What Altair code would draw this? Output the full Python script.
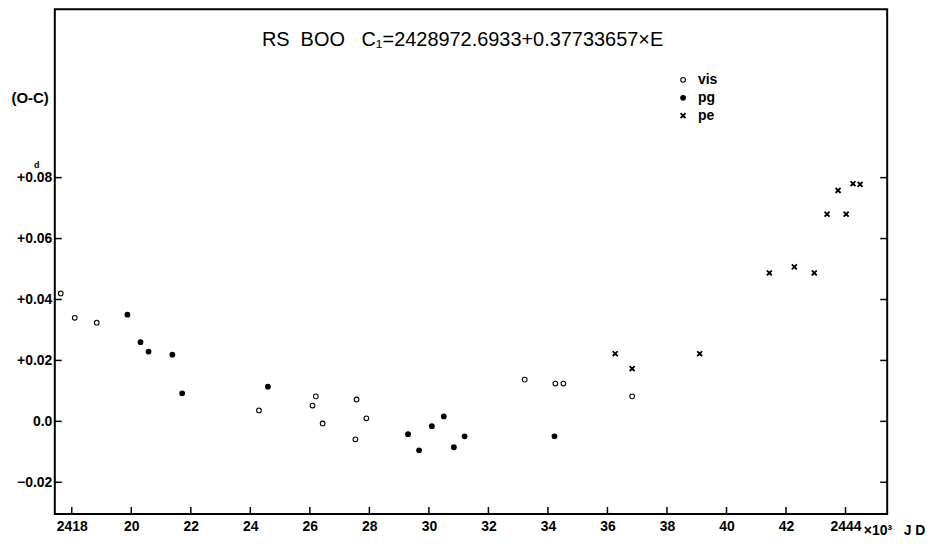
import altair as alt
import pandas as pd

# ---- data (JD - 2400000, in units of 10^3 days) ----
vis_jd = [17.63, 18.10, 18.84, 24.29, 26.09, 26.20, 26.43, 27.57, 27.53, 27.90, 33.22, 34.25, 34.52, 36.83]
vis_oc = [0.0420, 0.0340, 0.0324, 0.0036, 0.0052, 0.0082, -0.0007, 0.0072, -0.0059, 0.0010, 0.0137, 0.0124, 0.0124, 0.0082]
pg_jd = [19.87, 20.31, 20.58, 21.38, 21.71, 24.59, 29.30, 29.67, 30.10, 30.50, 30.84, 31.20, 34.22]
pg_oc = [0.0350, 0.0260, 0.0229, 0.0219, 0.0092, 0.0114, -0.0042, -0.0095, -0.0016, 0.0016, -0.0085, -0.0049, -0.0049]
pe_jd = [36.26, 36.83, 39.10, 41.44, 42.28, 42.95, 43.38, 43.75, 44.02, 44.25, 44.49]
pe_oc = [0.0222, 0.0173, 0.0222, 0.0487, 0.0507, 0.0487, 0.0680, 0.0758, 0.0680, 0.0780, 0.0778]

types = ["vis", "pg", "pe"]
x_ticks = [18, 20, 22, 24, 26, 28, 30, 32, 34, 36, 38, 40, 42, 44]
y_ticks = [-0.02, 0.0, 0.02, 0.04, 0.06, 0.08]
NB = "\u00a0"
title_text = "RS" + NB * 2 + "BOO" + NB * 3 + "C\u2081=2428972.6933+0.37733657\u00d7E"

W, H = 836, 507
FONT = "Liberation Sans"

rows = []
for t, xs, ys in (("vis", vis_jd, vis_oc), ("pg", pg_jd, pg_oc), ("pe", pe_jd, pe_oc)):
    for a, b in zip(xs, ys):
        rows.append({"jd": a, "oc": b, "type": t})
df = pd.DataFrame(rows)

xscale = alt.Scale(domain=[17.43, 45.4], nice=False, zero=False)
yscale = alt.Scale(domain=[-0.0304, 0.1353], nice=False, zero=False)

xaxis = alt.Axis(values=x_ticks, tickSize=0, domain=False, grid=False,
                 labelExpr="datum.value == 18 ? '2418' : (datum.value == 44 ? '2444' : format(datum.value, 'd'))",
                 labelFont=FONT, labelFontSize=14, labelFontWeight="bold", labelColor="black",
                 labelPadding=6, labelFlush=False,
                 title="\u00d710\u00b3" + NB * 3 + "J D", titleFont=FONT, titleFontSize=14, titleFontWeight="bold",
                 titleColor="black", titleAnchor="start", titleAlign="left", titleX=812, titleY=10,
                 titleBaseline="top")
yaxis = alt.Axis(values=y_ticks, tickSize=0, domain=False, grid=False,
                 labelExpr="datum.value == 0 ? '0.0' : (datum.value > 0 ? '+' : '') + format(datum.value, '.2f')",
                 labelFont=FONT, labelFontSize=14, labelFontWeight="bold", labelColor="black",
                 labelPadding=3,
                 title="(O-C)", titleFont=FONT, titleFontSize=15, titleFontWeight="bold",
                 titleColor="black", titleAngle=0, titleAlign="left", titleBaseline="middle",
                 titleX=-44, titleY=89)

xpath = "M-0.8,-1L0,-0.25L0.8,-1L1,-0.8L0.25,0L1,0.8L0.8,1L0,0.25L-0.8,1L-1,0.8L-0.25,0L-1,-0.8Z"

legend = alt.Legend(title=None, orient="none", legendX=624, legendY=64, padding=0,
                    labelFont=FONT, labelFontSize=14, labelFontWeight="bold",
                    labelColor="black", symbolSize=22, symbolStrokeWidth=1.1,
                    rowPadding=4, labelOffset=8)

points = alt.Chart(df).mark_point(size=22, strokeWidth=1.1, opacity=1).encode(
    x=alt.X("jd:Q", scale=xscale, axis=xaxis),
    y=alt.Y("oc:Q", scale=yscale, axis=yaxis),
    shape=alt.Shape("type:N", scale=alt.Scale(domain=types, range=["circle", "circle", xpath]), legend=legend),
    fill=alt.Fill("type:N", scale=alt.Scale(domain=types, range=["white", "black", "black"]), legend=legend),
    stroke=alt.Stroke("type:N", scale=alt.Scale(domain=types, range=["black", "black", "black"]), legend=legend),
)

ydf = pd.DataFrame({"v": y_ticks})
xdf = pd.DataFrame({"v": x_ticks})

left_ticks = alt.Chart(ydf).mark_rule(color="black", strokeWidth=1.5).encode(
    y=alt.Y("v:Q", scale=yscale, axis=yaxis), x=alt.value(0), x2=alt.value(7))
right_ticks = alt.Chart(ydf).mark_rule(color="black", strokeWidth=1.5).encode(
    y=alt.Y("v:Q", scale=yscale, axis=yaxis), x=alt.value(W - 7), x2=alt.value(W))
bottom_ticks = alt.Chart(xdf).mark_rule(color="black", strokeWidth=1.5).encode(
    x=alt.X("v:Q", scale=xscale, axis=xaxis), y=alt.value(H), y2=alt.value(H - 7))

title = alt.Chart(pd.DataFrame({"t": [title_text]})).mark_text(
    align="left", baseline="middle", font=FONT, fontSize=20, color="black").encode(
    text="t:N", x=alt.value(208), y=alt.value(31))

dmark = alt.Chart(pd.DataFrame({"t": ["d"]})).mark_text(
    align="left", baseline="middle", font=FONT, fontSize=9, fontWeight="bold", color="black").encode(
    text="t:N", x=alt.value(-21), y=alt.value(157))

chart = alt.layer(points, left_ticks, right_ticks, bottom_ticks, title, dmark).properties(
    width=W, height=H,
    autosize=alt.AutoSizeParams(type="none"),
    padding={"left": 47, "top": 0, "right": 45, "bottom": 30},
    background="white",
).configure_view(stroke="black", strokeWidth=2)

chart.save("out.html", embed_options={"renderer": "svg", "actions": False})
